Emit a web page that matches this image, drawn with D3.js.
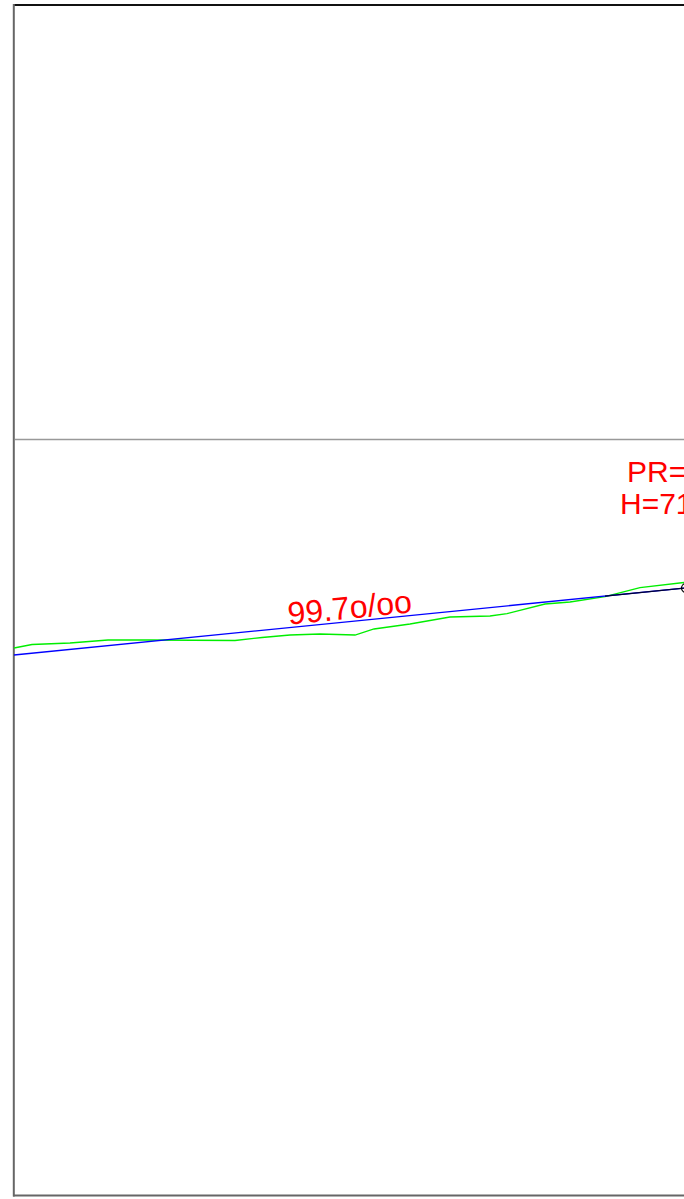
<!DOCTYPE html>
<html>
<head>
<meta charset="utf-8">
<script src="https://cdn.jsdelivr.net/npm/d3@7"></script>
<style>
html,body{margin:0;padding:0;background:#fff;overflow:hidden;}
svg{display:block;}
</style>
</head>
<body>
<svg id="chart" width="684" height="1199"></svg>
<script>
// ---- data (chainage in m, elevation in m) ----
const terrainChainage  = [0, 9, 28, 47, 68, 110.5, 124, 138, 153, 170.5, 180, 198, 218, 238, 246.5, 265.5, 278, 295.5, 313, 335];
const terrainElevation = [681.35, 683.1, 683.85, 685.35, 685.35, 685.1, 686.6, 687.85, 688.35, 687.85, 690.85, 693.35, 696.85, 697.35, 698.5, 703.35, 704.35, 707.0, 711.5, 714.1];
const gradeChainage  = [0, 336];
const gradeElevation = [677.85, 711.35];
const approachChainage  = [295.5, 336];
const approachElevation = [707.3, 711.35];
const gradeLabel = "99.7o/oo";
const pointLabels = ["PR=0+336.00", "H=711.35"];

const svg = d3.select("#chart");
const x = d3.scaleLinear().domain([0, 335]).range([14, 684]);
const y = d3.scaleLinear().domain([407.85, 1002.85]).range([1195, 5]);

// frame
svg.append("line").attr("x1", 14).attr("x2", 684).attr("y1", 5).attr("y2", 5)
  .attr("stroke", "#111").attr("stroke-width", 1.8);
svg.append("line").attr("x1", 13.8).attr("x2", 13.8).attr("y1", 4).attr("y2", 1196.5)
  .attr("stroke", "#666").attr("stroke-width", 2);
svg.append("line").attr("x1", 13).attr("x2", 684).attr("y1", 1195.5).attr("y2", 1195.5)
  .attr("stroke", "#666").attr("stroke-width", 2);
svg.append("line").attr("x1", 15).attr("x2", 684).attr("y1", 439.5).attr("y2", 439.5)
  .attr("stroke", "#999").attr("stroke-width", 1.5);

const line = d3.line().x(d => x(d[0])).y(d => y(d[1]));

// terrain
svg.append("path")
  .datum(d3.zip(terrainChainage, terrainElevation))
  .attr("d", line).attr("fill", "none").attr("stroke", "#00ee00").attr("stroke-width", 1.3);

// grade line
svg.append("path")
  .datum(d3.zip(gradeChainage, gradeElevation))
  .attr("d", line).attr("fill", "none").attr("stroke", "#0000ff").attr("stroke-width", 1.3);

// approach segment
svg.append("path")
  .datum(d3.zip(approachChainage, approachElevation))
  .attr("d", line).attr("fill", "none").attr("stroke", "#000033").attr("stroke-width", 1.3);

// PR circle
svg.append("circle")
  .attr("cx", x(approachChainage[1])).attr("cy", y(approachElevation[1]))
  .attr("r", 4.5).attr("fill", "none").attr("stroke", "#000").attr("stroke-width", 1.2);

// grade label
const c0 = 168;
const gAt = ch => gradeElevation[0] + (gradeElevation[1] - gradeElevation[0]) * (ch - gradeChainage[0]) / (gradeChainage[1] - gradeChainage[0]);
const px = x(c0), py = y(gAt(c0));
const ang = Math.atan2(y(gradeElevation[1]) - y(gradeElevation[0]), x(gradeChainage[1]) - x(gradeChainage[0])) * 180 / Math.PI;
svg.append("text")
  .attr("transform", `translate(${px + 1},${py}) rotate(${ang}) translate(0,-3)`)
  .attr("text-anchor", "middle")
  .attr("font-family", "Liberation Sans, Arial, sans-serif")
  .attr("font-size", 32)
  .attr("fill", "#ff0000")
  .text(gradeLabel);

// point labels
svg.append("text").attr("x", 627).attr("y", 482)
  .attr("font-family", "Liberation Sans, Arial, sans-serif").attr("font-size", 30)
  .attr("fill", "#ff0000").text(pointLabels[0]);
svg.append("text").attr("x", 620).attr("y", 514)
  .attr("font-family", "Liberation Sans, Arial, sans-serif").attr("font-size", 30)
  .attr("fill", "#ff0000").text(pointLabels[1]);
</script>
</body>
</html>
